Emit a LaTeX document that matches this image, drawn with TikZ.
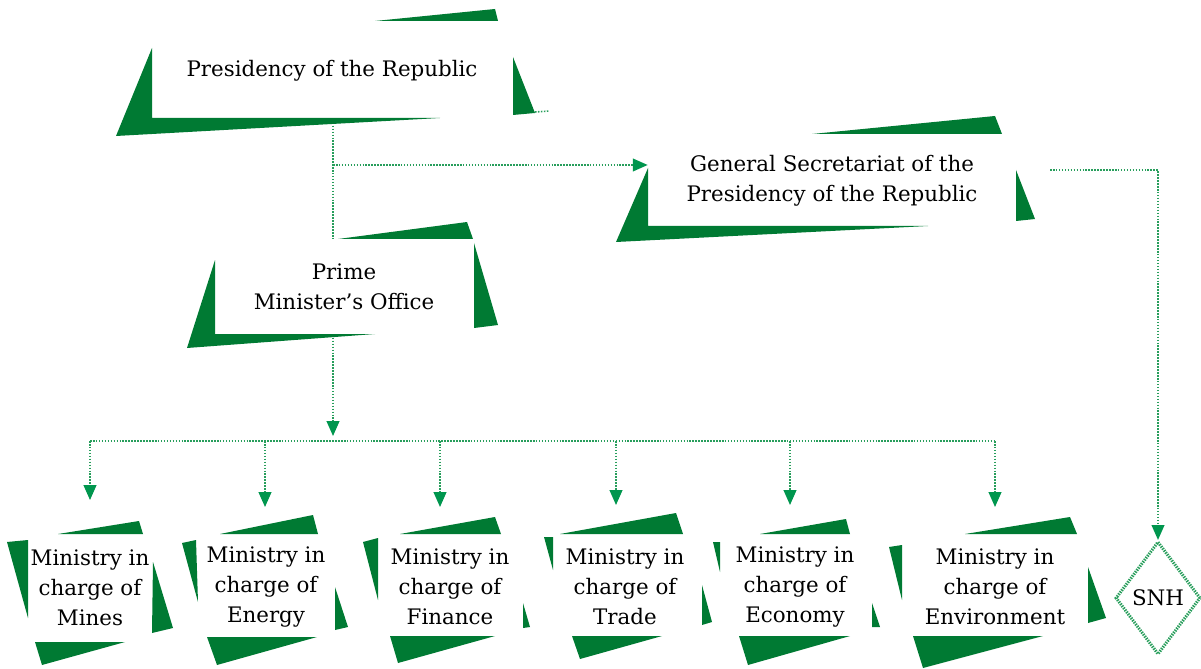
\documentclass[tikz,border=0pt]{standalone}
\usepackage{fontspec}
\setmainfont{DejaVu Serif}
\usepackage{tikz}
\usetikzlibrary{arrows.meta,shapes.geometric}

\definecolor{dkgreen}{RGB}{0,122,51}
\definecolor{lkgreen}{RGB}{40,158,92}
\definecolor{tipgreen}{RGB}{0,150,78}

\tikzset{
  box/.style={align=center,inner sep=0pt,font=\fontsize{15.2}{21.3}\selectfont},
  deco/.style={fill=dkgreen},
  link/.style={draw=lkgreen,line width=1.1pt,dash pattern=on 1.1pt off 1pt},
  tip/.style={-{Triangle[length=10.5pt,width=9pt,color=tipgreen,fill=tipgreen]}}
}

\begin{document}
\begin{tikzpicture}[x=0.025cm,y=-0.025cm]
  \useasboundingbox (0,0) rectangle (1201,669);

  % boxes
  \draw (332,71) node[box,minimum width=9.025cm,minimum height=2.425cm] (pres) {Presidency of the Republic};
  \draw (832,181) node[box,minimum width=9.2cm,minimum height=2.3cm] (gs) {General Secretariat of the\\Presidency of the Republic};
  \draw (344,287) node[box,minimum width=6.475cm,minimum height=2.375cm] (pm) {Prime\\Minister’s Office};
  \draw (90,588) node[box] (mines) {Ministry in\\charge of\\Mines};
  \draw (266,587) node[box] (energy) {Ministry in\\charge of\\Energy};
  \draw (450,587) node[box] (finance) {Ministry in\\charge of\\Finance};
  \draw (625,587) node[box] (trade) {Ministry in\\charge of\\Trade};
  \draw (795,587) node[box] (economy) {Ministry in\\charge of\\Economy};
  \draw (995,587) node[box] (environ) {Ministry in\\charge of\\Environment};
  \draw (1158,598) node[box,shape=diamond,minimum width=2.125cm,minimum height=2.825cm,
      draw=lkgreen,line width=2.2pt,dash pattern=on 1pt off 0.8pt] (snh) {SNH};

  % links
  \coordinate (split) at (333,165);
  \coordinate (stubA) at (535,112);
  \coordinate (stubB) at (549,111);
  \coordinate (gsout) at (1050,170);
  \coordinate (bartip) at (333,436);
  \coordinate (barL) at (90,441);
  \coordinate (barR) at (995,441);
  \coordinate (tmines) at (90,500);
  \coordinate (tenergy) at (265,507);
  \coordinate (tfinance) at (440,507);
  \coordinate (ttrade) at (616,505);
  \coordinate (teconomy) at (790,505);
  \coordinate (tenviron) at (995,507);

  \draw[link] (split |- pres.south) -- (split |- pm.north);
  \draw[link,tip] (split) -- (split -| gs.west);
  \draw[link] (stubA) -- (stubB);
  \draw[link,tip] (gsout) -| (snh.north);
  \draw[link,tip] (split |- pm.south) -- (bartip);
  \draw[link] (barL) -- (barR);
  \draw[link,tip] (tmines |- barL) -- (tmines);
  \draw[link,tip] (tenergy |- barL) -- (tenergy);
  \draw[link,tip] (tfinance |- barL) -- (tfinance);
  \draw[link,tip] (ttrade |- barL) -- (ttrade);
  \draw[link,tip] (teconomy |- barL) -- (teconomy);
  \draw[link,tip] (tenviron |- barL) -- (tenviron);

  % green corners
  \fill[deco] (152,48) -- (116,136) -- (440,118) -- (152,118) -- cycle;
  \fill[deco] (375,21) -- (495,9) -- (498,21) -- cycle;
  \fill[deco] (513,57) -- (535,113) -- (513,115) -- cycle;

  \fill[deco] (648,168) -- (616,242) -- (928,226) -- (648,226) -- cycle;
  \fill[deco] (812,134) -- (995,116) -- (1002,134) -- cycle;
  \fill[deco] (1016,170) -- (1035,219) -- (1016,221) -- cycle;

  \fill[deco] (215,260) -- (187,348) -- (375,334) -- (215,334) -- cycle;
  \fill[deco] (338,239) -- (467,222) -- (473,239) -- cycle;
  \fill[deco] (474,243) -- (498,325) -- (474,328) -- cycle;

  \fill[deco] (58,534) -- (139,521) -- (143,534) -- cycle;
  \fill[deco] (7,542) -- (28,540) -- (28,618) -- cycle;
  \fill[deco] (153,562) -- (173,628) -- (152,633) -- cycle;
  \fill[deco] (35,642) -- (125,642) -- (42,665) -- cycle;

  \fill[deco] (220,534) -- (313,515) -- (318,534) -- cycle;
  \fill[deco] (182,543) -- (196,540) -- (198,602) -- cycle;
  \fill[deco] (335,587) -- (348,627) -- (335,630) -- cycle;
  \fill[deco] (207,637) -- (317,637) -- (217,665) -- cycle;

  \fill[deco] (400,534) -- (495,517) -- (501,534) -- cycle;
  \fill[deco] (363,542) -- (378,538) -- (378,600) -- cycle;
  \fill[deco] (523,603) -- (530,627) -- (523,628) -- cycle;
  \fill[deco] (390,636) -- (495,636) -- (398,663) -- cycle;

  \fill[deco] (560,534) -- (676,513) -- (683,534) -- cycle;
  \fill[deco] (544,537) -- (553,537) -- (553,570) -- cycle;
  \fill[deco] (702,585) -- (712,622) -- (702,625) -- cycle;
  \fill[deco] (572,636) -- (662,636) -- (580,659) -- cycle;

  \fill[deco] (760,534) -- (846,519) -- (850,534) -- cycle;
  \fill[deco] (713,542) -- (720,542) -- (720,572) -- cycle;
  \fill[deco] (872,603) -- (880,627) -- (872,627) -- cycle;
  \fill[deco] (739,636) -- (850,636) -- (748,665) -- cycle;

  \fill[deco] (965,534) -- (1070,517) -- (1077,534) -- cycle;
  \fill[deco] (889,547) -- (902,545) -- (902,600) -- cycle;
  \fill[deco] (1088,567) -- (1106,618) -- (1088,623) -- cycle;
  \fill[deco] (913,636) -- (1043,636) -- (923,668) -- cycle;
\end{tikzpicture}
\end{document}
